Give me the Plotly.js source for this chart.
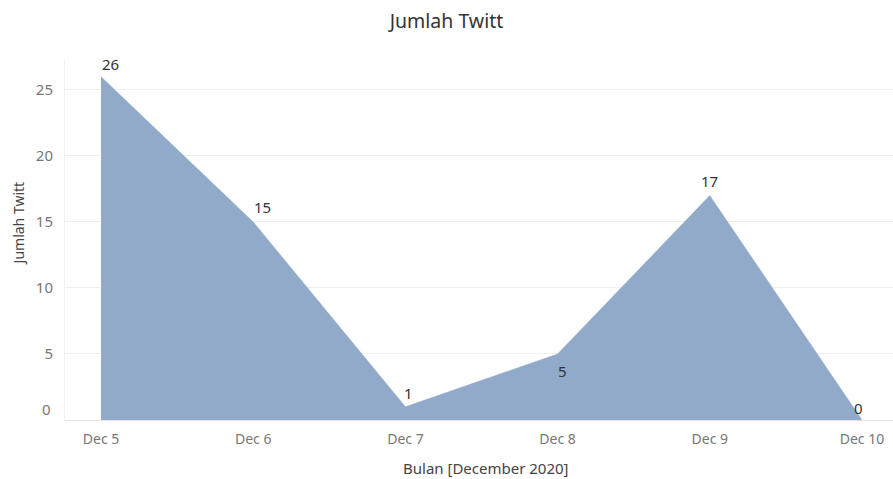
<!DOCTYPE html>
<html>
<head>
<meta charset="utf-8">
<script src="https://cdn.plot.ly/plotly-3.0.1.min.js"></script>
<style>html,body{margin:0;padding:0;background:#fff;}#chart{width:893px;height:479px;}</style>
</head>
<body>
<div id="chart"></div>
<script>
const categories = ["Dec 5", "Dec 6", "Dec 7", "Dec 8", "Dec 9", "Dec 10"];
const jumlahTwitt = [26, 15, 1, 5, 17, 0];
const yTickValues = [0, 5, 10, 15, 20, 25];
const yTickLabels = ["0", "5", "10", "15", "20", "25"];

const FONT = 'Noto Sans, Open Sans, sans-serif';
const xIdx = categories.map((c, i) => i);
const labelShift = [[9, 13], [9, 15], [3, 14], [5, -17], [0, 15], [-3, 12]];

const annotations = jumlahTwitt.map((v, i) => ({
  x: xIdx[i], y: v, xref: 'x', yref: 'y', text: String(v), showarrow: false,
  xshift: labelShift[i][0], yshift: labelShift[i][1],
  font: {family: FONT, size: 15, color: '#333'}
}));
annotations.push({
  x: 0, y: yTickValues[0], xref: 'paper', yref: 'y', text: yTickLabels[0], showarrow: false,
  xanchor: 'right', xshift: -12, yshift: 11,
  font: {family: FONT, size: 15, color: '#777'}
});
annotations.push({
  x: 0.508, y: 0, xref: 'paper', yref: 'paper', text: 'Bulan [December 2020]', showarrow: false,
  xanchor: 'center', yanchor: 'middle', yshift: -48,
  font: {family: FONT, size: 15, color: '#444'}
});
annotations.push({
  x: -0.0568, y: 0.546, xref: 'paper', yref: 'paper', text: 'Jumlah Twitt', showarrow: false,
  xanchor: 'center', yanchor: 'middle', textangle: -90,
  font: {family: FONT, size: 14, color: '#444'}
});

const trace = {
  x: xIdx, y: jumlahTwitt, type: 'scatter', mode: 'lines',
  fill: 'tozeroy', fillcolor: 'rgb(145,170,202)',
  line: {width: 0.5, color: 'rgb(145,170,202)'}, hoverinfo: 'skip'
};

const layout = {
  width: 893, height: 479,
  margin: {l: 65, r: 0, t: 60, b: 59},
  paper_bgcolor: '#fff', plot_bgcolor: '#fff',
  showlegend: false,
  title: {text: 'Jumlah Twitt', x: 0.5, xanchor: 'center', y: 0.955, yanchor: 'middle',
    font: {family: FONT, size: 19.5, color: '#333'}},
  xaxis: {
    range: [-0.237, 5.204], tickvals: xIdx, ticktext: categories,
    showgrid: false, zeroline: false, showline: false,
    ticks: 'outside', ticklen: 6, tickcolor: 'rgba(0,0,0,0)',
    tickfont: {family: FONT, size: 14, color: '#777'}
  },
  yaxis: {
    range: [0, 27.27], tickvals: yTickValues, ticktext: ["", ...yTickLabels.slice(1)],
    showgrid: true, gridcolor: '#efefef', gridwidth: 1,
    zeroline: true, zerolinecolor: '#e4e4e4', zerolinewidth: 1,
    showline: true, linecolor: '#f0f0f0', linewidth: 1,
    ticks: 'outside', ticklen: 8, tickcolor: 'rgba(0,0,0,0)',
    tickfont: {family: FONT, size: 15, color: '#777'}
  },
  annotations: annotations
};

Plotly.newPlot('chart', [trace], layout, {displayModeBar: false, staticPlot: true});
</script>
</body>
</html>
